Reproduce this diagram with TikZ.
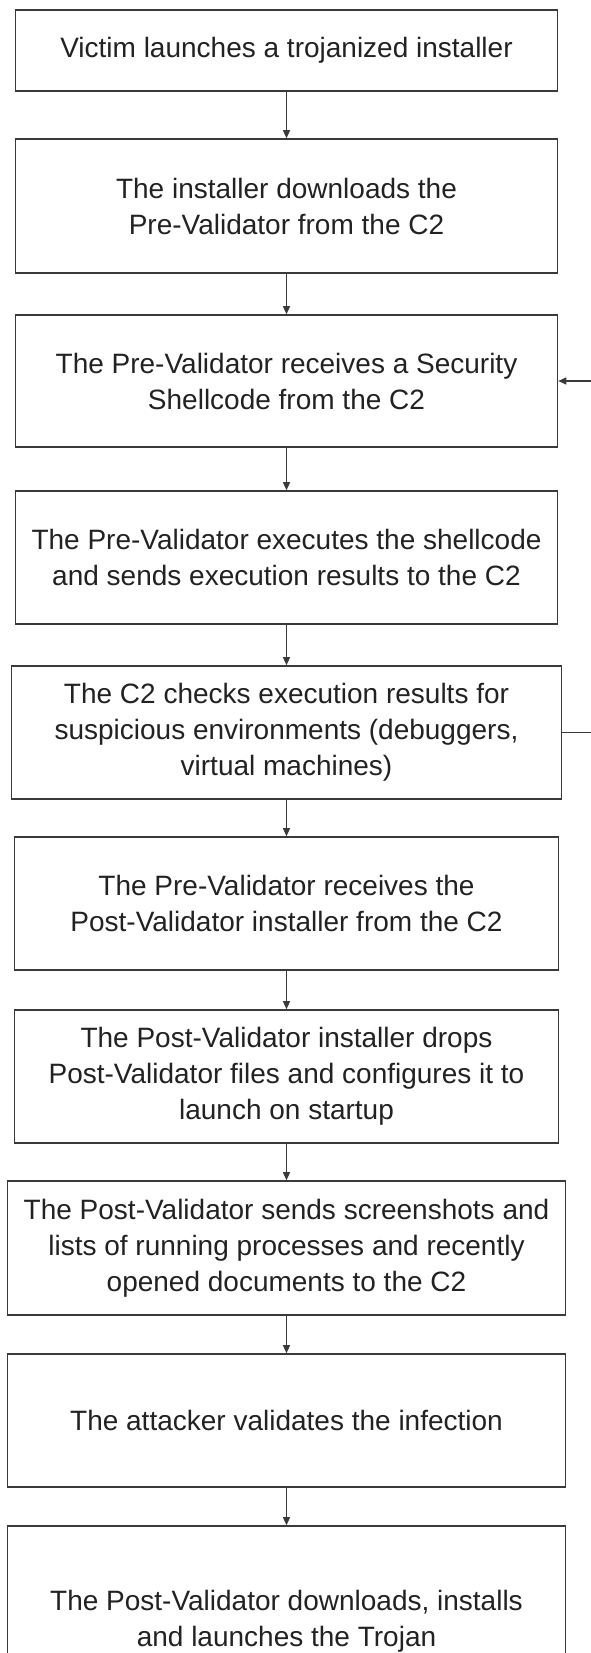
\documentclass[tikz,border=0pt]{standalone}
\usepackage{fontspec}
\setmainfont{Liberation Sans}
\usetikzlibrary{arrows.meta}
\definecolor{boxline}{HTML}{3A3A3A}
\definecolor{boxtext}{HTML}{222222}
\begin{document}
\begin{tikzpicture}[x=1pt,y=-1pt,
    stepbox/.style={draw=boxline, line width=1.6pt, fill=white, align=center,
      text=boxtext, inner sep=0pt, font=\fontsize{28}{36}\selectfont},
    flow/.style={draw=boxline, line width=1.3pt, -{Triangle[length=8pt,width=7pt]}}]
      \useasboundingbox [fill=white] (0,0) rectangle (590,1653);
      % steps, top to bottom
      \node [stepbox, minimum width=542pt, minimum height=81pt] (victim) at (286.5,50.5)
        {Victim launches a trojanized installer};
      \node [stepbox, minimum width=542pt, minimum height=134pt] (download) at (286.5,206)
        {The installer downloads the\\Pre-Validator from the C2};
      \node [stepbox, minimum width=542pt, minimum height=132pt] (security) at (286.5,381)
        {The Pre-Validator receives a Security\\Shellcode from the C2};
      \node [stepbox, minimum width=542pt, minimum height=133pt] (execute) at (286.5,557.5)
        {The Pre-Validator executes the shellcode\\and sends execution results to the C2};
      \node [stepbox, minimum width=550pt, minimum height=133pt] (checks) at (286.5,732.5)
        {The C2 checks execution results for\\suspicious environments (debuggers,\\virtual machines)};
      \node [stepbox, minimum width=544pt, minimum height=133pt] (postinst) at (286.5,903.5)
        {The Pre-Validator receives the\\Post-Validator installer from the C2};
      \node [stepbox, minimum width=544pt, minimum height=133pt] (drops) at (286.5,1076.5)
        {The Post-Validator installer drops\\Post-Validator files and configures it to\\launch on startup};
      \node [stepbox, minimum width=558pt, minimum height=134pt] (sends) at (286.5,1248)
        {The Post-Validator sends screenshots and\\lists of running processes and recently\\opened documents to the C2};
      \node [stepbox, minimum width=558pt, minimum height=133pt] (validate) at (286.5,1420.5)
        {The attacker validates the infection};
      \node [stepbox, minimum width=558pt, minimum height=190pt] (trojan) at (286.5,1621)
        {The Post-Validator downloads, installs\\and launches the Trojan};
      % connectors
      \draw [flow] (victim.south) -- (download.north);
      \draw [flow] (download.south) -- (security.north);
      \draw [flow] (security.south) -- (execute.north);
      \draw [flow] (execute.south) -- (checks.north);
      \draw [flow] (checks.south) -- (postinst.north);
      \draw [flow] (postinst.south) -- (drops.north);
      \draw [flow] (drops.south) -- (sends.north);
      \draw [flow] (sends.south) -- (validate.north);
      \draw [flow] (validate.south) -- (trojan.north);
      % loop back when the check fails
      \draw [flow] (checks.east) -- ++(40,0) |- (security.east);
    \end{tikzpicture}
\end{document}
